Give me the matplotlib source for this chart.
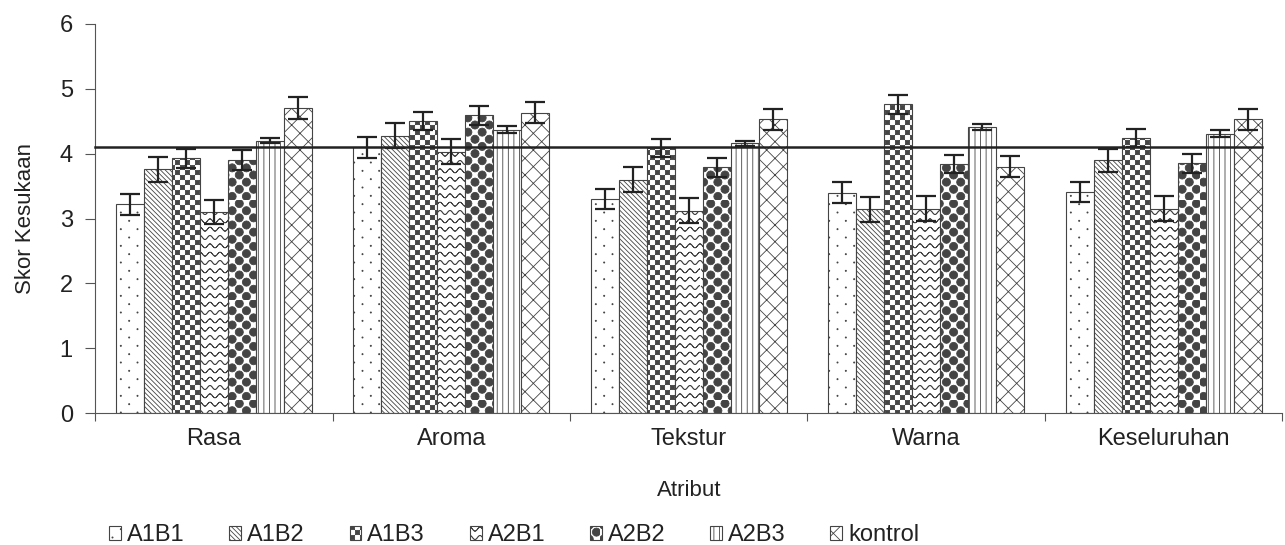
import warnings
import numpy as np
import matplotlib
matplotlib.use('Agg')
import matplotlib.pyplot as plt
from matplotlib import hatch as mhatch
from matplotlib.path import Path

warnings.filterwarnings('ignore')

# data
atribut = ['Rasa', 'Aroma', 'Tekstur', 'Warna', 'Keseluruhan']
perlakuan = ['A1B1', 'A1B2', 'A1B3', 'A2B1', 'A2B2', 'A2B3', 'kontrol']

A1B1 = [3.22, 4.10, 3.30, 3.40, 3.41]
A1B2 = [3.76, 4.28, 3.60, 3.14, 3.90]
A1B3 = [3.93, 4.51, 4.09, 4.76, 4.24]
A2B1 = [3.10, 4.03, 3.12, 3.15, 3.15]
A2B2 = [3.90, 4.59, 3.79, 3.84, 3.85]
A2B3 = [4.20, 4.37, 4.16, 4.41, 4.31]
kontrol = [4.71, 4.63, 4.53, 3.80, 4.53]

err_A1B1 = [0.16, 0.16, 0.16, 0.16, 0.16]
err_A1B2 = [0.19, 0.19, 0.19, 0.19, 0.18]
err_A1B3 = [0.15, 0.14, 0.14, 0.15, 0.14]
err_A2B1 = [0.18, 0.19, 0.19, 0.19, 0.19]
err_A2B2 = [0.15, 0.15, 0.15, 0.14, 0.15]
err_A2B3 = [0.04, 0.05, 0.04, 0.05, 0.05]
err_kontrol = [0.17, 0.16, 0.16, 0.16, 0.16]

batas = 4.1  # garis batas


# --- custom hatch patterns (checker, wave, balls, sparse dots) ---
class PolyHatch(mhatch.HatchPatternBase):
    key = None
    polys = []

    def __init__(self, hatch, density):
        on = self.key is not None and hatch is not None and self.key in hatch
        self.num_vertices = sum(len(p) + 1 for p in self.polys) if on else 0

    def set_vertices_and_codes(self, vertices, codes):
        i = 0
        for p in self.polys:
            n = len(p)
            vertices[i:i + n] = p
            vertices[i + n] = p[0]
            codes[i] = Path.MOVETO
            codes[i + 1:i + n] = Path.LINETO
            codes[i + n] = Path.CLOSEPOLY
            i += n + 1


def circle(cx, cy, r, k=12):
    t = np.linspace(0, 2 * np.pi, k, endpoint=False)
    return np.column_stack([cx + r * np.cos(t), cy + r * np.sin(t)])


def checker_polys(n=20, gap=0.008):
    s = 1.0 / n
    out = []
    for i in range(n):
        for j in range(n):
            if (i + j) % 2 == 0:
                x0, y0 = i * s + gap / 2, j * s + gap / 2
                x1, y1 = (i + 1) * s - gap / 2, (j + 1) * s - gap / 2
                out.append(np.array([[x0, y0], [x1, y0], [x1, y1], [x0, y1]]))
    return out


def wave_polys(rows=12, periods=10, amp=0.02):
    xs = np.linspace(0, 1, periods * 12 + 1)
    out = []
    for r in range(rows):
        ys = (r + 0.5) / rows + amp * np.cos(2 * np.pi * periods * xs)
        pts = np.column_stack([xs, ys])
        out.append(np.concatenate([pts, pts[::-1]]))
    return out


def ball_polys(n=14, r=0.041):
    out = []
    for i in range(n):
        for j in range(n):
            if (i + j) % 2 == 0:
                out.append(circle((i + 0.5) / n, (j + 0.5) / n, r))
    return out


def dot_polys(cols=6, rows=12, r=0.006):
    out = []
    for j in range(rows):
        off = 0.5 if j % 2 else 0.0
        for i in range(cols):
            out.append(circle((i + off + 0.25) / cols, (j + 0.5) / rows, r, 6))
    return out


class Checker(PolyHatch):
    key = 'k'
    polys = checker_polys()


class Wave(PolyHatch):
    key = 'w'
    polys = wave_polys()


class Balls(PolyHatch):
    key = 'b'
    polys = ball_polys()


class SparseDots(PolyHatch):
    key = 'd'
    polys = dot_polys()


mhatch._hatch_types.extend([Checker, Wave, Balls, SparseDots])

plt.rcParams['font.family'] = ['Liberation Sans', 'DejaVu Sans']
plt.rcParams['hatch.linewidth'] = 0.6
plt.rcParams['hatch.color'] = 'black'

series = [A1B1, A1B2, A1B3, A2B1, A2B2, A2B3, kontrol]
errors = [err_A1B1, err_A1B2, err_A1B3, err_A2B1, err_A2B2, err_A2B3, err_kontrol]
hatches = ['d', '\\' * 7, 'k', 'w', 'b', '|||', 'xx']

fig = plt.figure(figsize=(12.85, 5.45), dpi=100)
ax = fig.add_axes([0.074, 0.242, 0.924, 0.714])

x = np.arange(len(atribut))
w = 0.118
for k, (vals, errs, h, name) in enumerate(zip(series, errors, hatches, perlakuan)):
    pos = x + (k - 3) * w
    ax.bar(pos, vals, width=w, color='white', edgecolor='#444444',
           linewidth=0.8, hatch=h, label=name)
    ax.errorbar(pos, vals, yerr=errs, fmt='none', ecolor='#222222',
                elinewidth=1.6, capsize=7, capthick=1.6)

ax.plot([-0.5, x[-1] + 3.5 * w], [batas, batas], color='#222222', lw=1.8,
        clip_on=False, zorder=5)

ax.set_xlim(-0.5, len(atribut) - 0.5)
ax.set_ylim(0, 6)
ax.set_yticks(range(0, 7))
ax.set_xticks(np.arange(-0.5, len(atribut)), [''] * (len(atribut) + 1))
ax.set_xticks(x, atribut, minor=True)
ax.tick_params(axis='x', which='major', direction='out', length=6,
               color='#555555')
ax.tick_params(axis='x', which='minor', length=0, pad=11, labelsize=17,
               labelcolor='#222222')
ax.tick_params(axis='y', direction='out', length=7, color='#555555',
               labelsize=17, labelcolor='#222222', pad=9)
for side in ['top', 'right']:
    ax.spines[side].set_visible(False)
for side in ['left', 'bottom']:
    ax.spines[side].set_color('#555555')

ax.set_xlabel('Atribut', fontsize=16, color='#222222', labelpad=21)
ax.set_ylabel('Skor Kesukaan', fontsize=16, color='#222222', labelpad=17)

fig.legend(loc='center left', bbox_to_anchor=(0.085, 0.018), ncol=7,
           frameon=False, fontsize=17, handlelength=0.5, handleheight=0.5,
           handletextpad=0.25, columnspacing=1.9, borderaxespad=0,
           borderpad=0, labelcolor='#222222')

fig.savefig('out.png', dpi=100)
